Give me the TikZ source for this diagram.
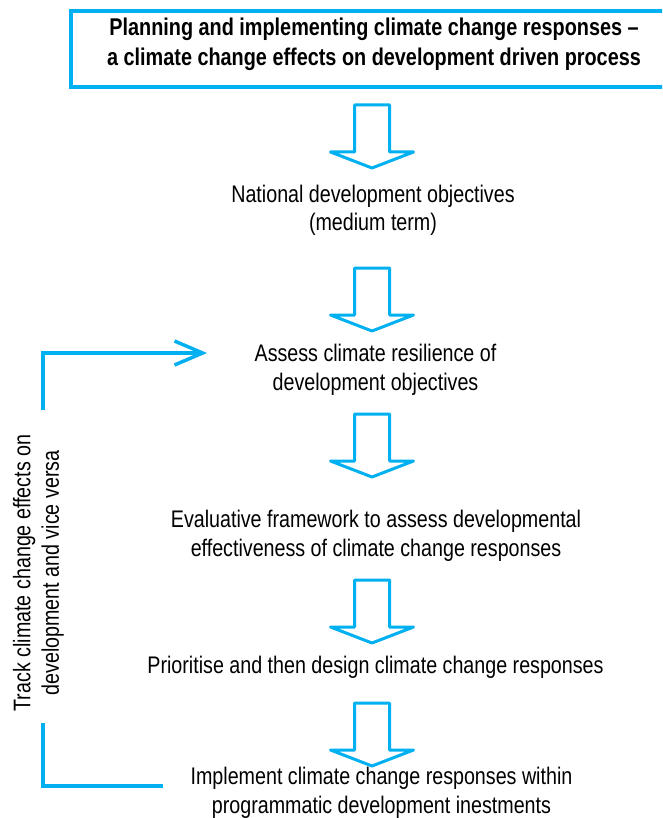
\documentclass[tikz,border=0pt]{standalone}
\usepackage{fontspec}
\setmainfont{Liberation Sans}[FakeStretch=0.82]
\usetikzlibrary{arrows.meta}
\definecolor{cblue}{RGB}{0,176,240}
\tikzset{
  body/.style={font=\fontsize{24}{28.5}\selectfont, align=center, text=black, inner sep=0pt},
  titlebox/.style={draw=cblue, line width=4pt, minimum width=600pt, minimum height=76pt, inner sep=0pt},
  titletxt/.style={font=\bfseries\fontsize{24.2}{30}\selectfont, align=center, inner sep=0pt},
  blockarrow/.style={draw=cblue, line width=3pt, line join=round, fill=white},
  loopline/.style={draw=cblue, line width=3.5pt},
  downarrow/.pic={\path[blockarrow] (-17.5,0) -- (17.5,0) -- (17.5,47) -- (41.5,47) -- (0,63) -- (-41.5,47) -- (-17.5,47) -- cycle;}
}
\begin{document}
\begin{tikzpicture}[x=1pt,y=-1pt]
\path[use as bounding box, clip] (0,0) rectangle (662,818);
\node[titlebox] (title) at (371,49) {};
\node[titletxt] (titletext) at (374,44.5) {Planning and implementing climate change responses --\\ a climate change effects on development driven process};
\node[body] (nat) at (373,210.5) {National development objectives\\(medium term)};
\node[body] (assess) at (375.5,370) {Assess climate resilience of\\development objectives};
\node[body] (eval) at (376,536) {Evaluative framework to assess developmental\\effectiveness of climate change responses};
\node[body] (prio) at (375.5,667.5) {Prioritise and then design climate change responses};
\node[body] (impl) at (381.5,793) {Implement climate change responses within\\programmatic development inestments};
\node[body, rotate=90] (track) at (38.5,573) {Track climate change effects on\\development and vice versa};
\pic at (372,105) {downarrow};
\pic at (372,268) {downarrow};
\pic at (372,414) {downarrow};
\pic at (372,580) {downarrow};
\pic at (372,703) {downarrow};
\coordinate (fbT) at (43,410);
\coordinate (inA) at (207,353);
\coordinate (fbB) at (43,723);
\coordinate (outI) at (163,786);
\draw[loopline, -{Straight Barb[length=28pt,width=24pt,line width=3.5pt]}] (fbT) |- (inA);
\draw[loopline] (fbB) |- (outI);
\end{tikzpicture}
\end{document}
